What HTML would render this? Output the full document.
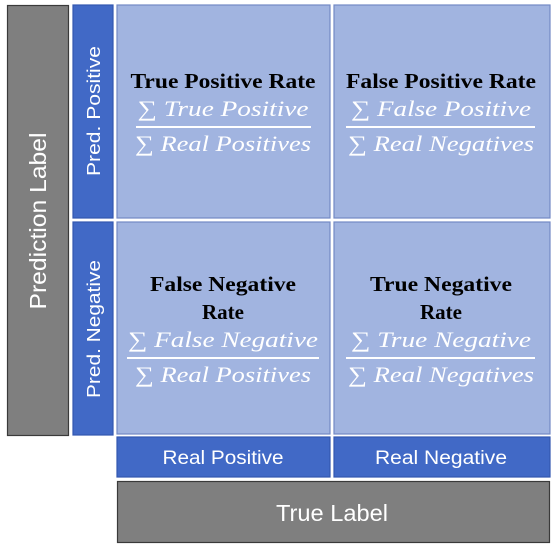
<!DOCTYPE html>
<html><head><style>body{margin:0;background:#fff}</style></head><body>
<svg width="552" height="551" xmlns="http://www.w3.org/2000/svg" style="display:block">
<g stroke-width="1.2">
<rect x="7.5" y="5.5" width="61" height="430" fill="#7f7f7f" stroke="#3a3a3a"/>
<rect x="73" y="5" width="40" height="213" fill="#4169c6" stroke="#3358b0"/>
<rect x="73" y="222" width="40" height="213" fill="#4169c6" stroke="#3358b0"/>
<rect x="117" y="5" width="213" height="213" fill="#a1b4e0" stroke="#7389c4"/>
<rect x="334" y="5" width="216" height="213" fill="#a1b4e0" stroke="#7389c4"/>
<rect x="117" y="222" width="213" height="212" fill="#a1b4e0" stroke="#7389c4"/>
<rect x="334" y="222" width="216" height="212" fill="#a1b4e0" stroke="#7389c4"/>
<rect x="117" y="437" width="213" height="40" fill="#4169c6" stroke="#3358b0"/>
<rect x="334" y="437" width="216" height="40" fill="#4169c6" stroke="#3358b0"/>
<rect x="117.5" y="481.5" width="432" height="61" fill="#7f7f7f" stroke="#3a3a3a"/>
</g>
<g font-family="Liberation Sans, sans-serif" fill="#fff" text-anchor="middle" lengthAdjust="spacingAndGlyphs">
<text transform="translate(46,221) rotate(-90)" font-size="23" textLength="177" lengthAdjust="spacingAndGlyphs">Prediction Label</text>
<text transform="translate(100,111) rotate(-90)" font-size="18" textLength="130" lengthAdjust="spacingAndGlyphs">Pred. Positive</text>
<text transform="translate(100,329) rotate(-90)" font-size="18" textLength="138" lengthAdjust="spacingAndGlyphs">Pred. Negative</text>
<text x="223" y="464" font-size="19" textLength="121" lengthAdjust="spacingAndGlyphs">Real Positive</text>
<text x="441" y="464" font-size="19" textLength="132" lengthAdjust="spacingAndGlyphs">Real Negative</text>
<text x="332" y="521" font-size="23" textLength="112" lengthAdjust="spacingAndGlyphs">True Label</text>
</g>
<g font-family="Liberation Serif, serif" text-anchor="middle">
<g font-weight="bold" font-size="21" fill="#000">
<text x="223" y="88" textLength="185" lengthAdjust="spacingAndGlyphs">True Positive Rate</text>
<text x="441" y="88" textLength="190" lengthAdjust="spacingAndGlyphs">False Positive Rate</text>
<text x="223" y="291" textLength="146" lengthAdjust="spacingAndGlyphs">False Negative</text>
<text x="223" y="319">Rate</text>
<text x="441" y="291" textLength="142" lengthAdjust="spacingAndGlyphs">True Negative</text>
<text x="441" y="319">Rate</text>
</g>
<g font-style="italic" font-size="22" fill="#fff">
<text x="223" y="116" textLength="171" lengthAdjust="spacingAndGlyphs">∑ True Positive</text>
<text x="223" y="151" textLength="176" lengthAdjust="spacingAndGlyphs">∑ Real Positives</text>
<text x="441" y="116" textLength="180" lengthAdjust="spacingAndGlyphs">∑ False Positive</text>
<text x="441" y="151" textLength="186" lengthAdjust="spacingAndGlyphs">∑ Real Negatives</text>
<text x="223" y="347" textLength="190" lengthAdjust="spacingAndGlyphs">∑ False  Negative</text>
<text x="223" y="382" textLength="176" lengthAdjust="spacingAndGlyphs">∑ Real Positives</text>
<text x="441" y="347" textLength="180" lengthAdjust="spacingAndGlyphs">∑ True Negative</text>
<text x="441" y="382" textLength="186" lengthAdjust="spacingAndGlyphs">∑ Real Negatives</text>
</g>
<g stroke="#fff" stroke-width="2">
<line x1="136" y1="127" x2="311" y2="127"/>
<line x1="346" y1="127" x2="535" y2="127"/>
<line x1="127" y1="358" x2="319" y2="358"/>
<line x1="346" y1="358" x2="535" y2="358"/>
</g>
</g>
</svg>
</body></html>
